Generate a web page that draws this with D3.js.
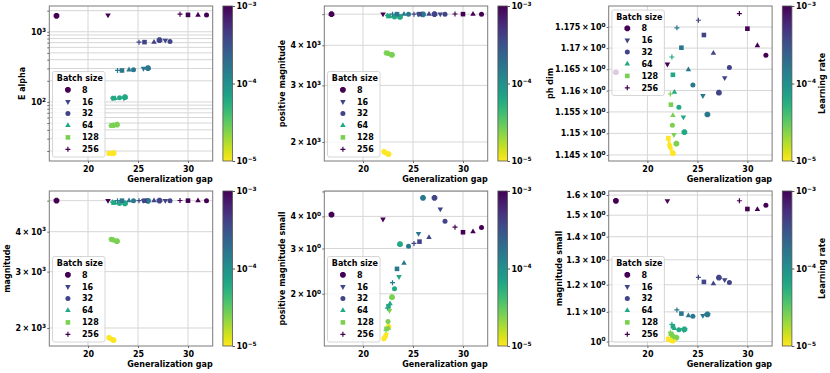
<!DOCTYPE html>
<html><head><meta charset="utf-8">
<script src="https://cdn.jsdelivr.net/npm/d3@7"></script>
<style>
body{margin:0;background:#fff}
svg text{font-family:"DejaVu Sans",sans-serif;font-weight:bold;fill:#000}
</style>
</head><body>
<svg id="c" width="830" height="373"></svg>
<script>
// ---------- DATA ----------
const batchSizes = [8, 16, 32, 64, 128, 256];
const learningRates = [1e-3, 3.98e-4, 1.58e-4, 6.31e-5, 2.51e-5, 1e-5];
// rows: learning rate, columns: batch size
const genGap = [
  [16.85, 22.0, 31.85, 31.0, 30.0, 29.2],
  [27.15, 27.73, 28.2, 26.6, 25.65, 25.1],
  [26.0, 25.55, 24.55, 24.1, 23.4, 22.95],
  [23.7, 23.6, 23.15, 22.7, 22.55, 22.45],
  [22.9, 22.65, 22.5, 22.55, 22.35, 22.3],
  [22.55, 22.35, 22.25, 22.2, 22.1, 22.08]
];
const eAlpha = [
  [1690, 1730, 1740, 1730, 1740, 1780],
  [761, 754, 729, 712, 712, 712],
  [303, 300, 287, 287, 281, 281],
  [117, 113, 115, 112, 113, 113],
  [47.5, 46.5, 46.5, 46.5, 46, 46],
  [18.7, 18.6, 18.6, 18.5, 18.5, 18.5]
];
const posMagnitude = [
  [5000, 5005, 5000, 5000, 5000, 5005],
  [5002, 5000, 5000, 5001, 5000, 5000],
  [4995, 5000, 5000, 5000, 5000, 5000],
  [4900, 4930, 4900, 4920, 4930, 4950],
  [3735, 3760, 3770, 3775, 3785, 3790],
  [1832, 1845, 1850, 1858, 1865, 1870]
];
const phDim = [
  [1.1643, 1.1662, 1.1683, 1.1706, 1.1746, 1.1782],
  [1.1595, 1.1630, 1.1654, 1.1688, 1.1731, 1.1766],
  [1.1544, 1.1588, 1.1613, 1.1649, 1.1701, 1.1748],
  [1.1503, 1.1538, 1.1561, 1.1596, 1.1637, 1.1679],
  [1.1476, 1.1497, 1.1519, 1.1542, 1.1567, 1.1592],
  [1.1454, 1.1463, 1.1470, 1.1477, 1.1489, 1.1485]
];
const magnitude = [
  [5000, 5005, 5000, 5000, 5000, 5005],
  [5002, 5000, 5000, 5001, 5000, 5000],
  [4995, 5000, 5000, 5000, 5000, 5000],
  [4900, 4930, 4900, 4920, 4930, 4950],
  [3735, 3760, 3770, 3775, 3785, 3790],
  [1832, 1845, 1850, 1858, 1865, 1870]
];
const posMagnitudeSmall = [
  [4.06, 3.90, 3.62, 3.49, 3.47, 3.63],
  [4.72, 4.27, 3.83, 3.31, 3.19, 3.14],
  [4.72, 3.43, 3.06, 2.63, 2.50, 2.21],
  [3.12, 2.33, 2.09, 1.83, 1.79, 1.76],
  [1.94, 1.72, 1.56, 1.47, 1.46, 1.44],
  [1.49, 1.39, 1.37, 1.36, 1.34, 1.335]
];
const magnitudeSmall = [
  [1.571, 1.571, 1.548, 1.528, 1.530, 1.571],
  [1.228, 1.219, 1.209, 1.204, 1.211, 1.229],
  [1.091, 1.087, 1.085, 1.087, 1.094, 1.107],
  [1.040, 1.039, 1.039, 1.043, 1.050, 1.057],
  [1.013, 1.015, 1.018, 1.022, 1.025, 1.030],
  [1.003, 1.004, 1.005, 1.006, 1.008, 1.012]
];
const xTickValues = [20, 25, 30];
const cbTickValues = [1e-3, 1e-4, 1e-5];
const legendTitle = "Batch size";
const legendColorLr = [0, 1, 1, 3, 4, 0]; // which learning rate colours the legend handle

// ---------- LAYOUT ----------
const colX = [49.3, 324.3, 608.7], rowY = [6, 191];
const W = 163.4, H = 155;
const xDomain = [16.13, 32.47];
const color = lr => d3.interpolateViridis(1 - (Math.log10(lr) + 5) / 2);

const panels = [
  {data: eAlpha, label: "E alpha", col: 0, row: 0, domain: [14.4, 2330],
   labeled: [100, 1000], grid: [20,30,40,50,60,70,80,90,100,200,300,400,500,600,700,800,900,1000,2000],
   legend: "bottom", ylx: 27.6, cbLabel: null},
  {data: posMagnitude, label: "positive magnitude", col: 1, row: 0, domain: [1745, 5300],
   labeled: [2000, 3000, 4000], grid: [2000, 3000, 4000, 5000], legend: "bottom", ylx: 42.5, cbLabel: null},
  {data: phDim, label: "ph dim", col: 2, row: 0, domain: [1.1436, 1.1800],
   labeled: [1.145, 1.15, 1.155, 1.16, 1.165, 1.17, 1.175], grid: [1.145, 1.15, 1.155, 1.16, 1.165, 1.17, 1.175],
   legend: "top", ylx: 58.5, cbLabel: "Learning rate"},
  {data: magnitude, label: "magnitude", col: 0, row: 1, domain: [1757, 5360],
   labeled: [2000, 3000, 4000], grid: [2000, 3000, 4000, 5000], legend: "bottom", ylx: 42.5, cbLabel: null},
  {data: posMagnitudeSmall, label: "positive magnitude small", col: 1, row: 1, domain: [1.253, 5.02],
   labeled: [2, 3, 4], grid: [2, 3, 4, 5], legend: "bottom", ylx: 42.5, cbLabel: null},
  {data: magnitudeSmall, label: "magnitude small", col: 2, row: 1, domain: [0.986, 1.621],
   labeled: [1.0, 1.1, 1.2, 1.3, 1.4, 1.5, 1.6], grid: [1.0, 1.1, 1.2, 1.3, 1.4, 1.5, 1.6],
   legend: "bottom", ylx: 50, cbLabel: "Learning rate"}
];

const svg = d3.select("#c");
const defs = svg.append("defs");
const grad = defs.append("linearGradient").attr("id", "vir")
  .attr("x1", 0).attr("y1", 0).attr("x2", 0).attr("y2", 1);
d3.range(0, 1.0001, 0.05).forEach(t =>
  grad.append("stop").attr("offset", t).attr("stop-color", d3.interpolateViridis(t)));

// marker shapes
function markerPath(bsIdx) {
  const p = d3.path();
  if (bsIdx === 0) { // octagon
    const R = 3.1;
    for (let k = 0; k < 8; k++) {
      const a = Math.PI / 8 + k * Math.PI / 4;
      k ? p.lineTo(R * Math.cos(a), R * Math.sin(a)) : p.moveTo(R * Math.cos(a), R * Math.sin(a));
    }
    p.closePath();
  } else if (bsIdx === 1) { // triangle down
    const R = 3.2;
    p.moveTo(0, R); p.lineTo(-R * 0.866, -R / 2); p.lineTo(R * 0.866, -R / 2); p.closePath();
  } else if (bsIdx === 2) { // circle
    p.arc(0, 0, 2.5, 0, 2 * Math.PI);
  } else if (bsIdx === 3) { // triangle up
    const R = 3.2;
    p.moveTo(0, -R); p.lineTo(-R * 0.866, R / 2); p.lineTo(R * 0.866, R / 2); p.closePath();
  } else if (bsIdx === 4) { // square
    p.rect(-2.3, -2.3, 4.6, 4.6);
  } else { // plus
    p.moveTo(-2.5, 0); p.lineTo(2.5, 0); p.moveTo(0, -2.5); p.lineTo(0, 2.5);
  }
  return p.toString();
}
function drawMarker(sel, bsIdx, col) {
  const m = sel.append("path").attr("d", markerPath(bsIdx));
  if (bsIdx === 5) m.attr("fill", "none").attr("stroke", col).attr("stroke-width", 1.2);
  else m.attr("fill", col);
  return m;
}

function sciLabel(textSel, v) {
  const e = Math.floor(Math.log10(v) + 1e-9);
  const m = +(v / Math.pow(10, e)).toFixed(4);
  textSel.text(null);
  const base = (m === 1) ? "10" : (String(m) + "\u2009\u00d7\u200910");
  textSel.append("tspan").text(base);
  textSel.append("tspan").attr("dy", -3.3).attr("font-size", "5.8px")
    .text(String(e).replace("-", "\u2212"));
}

panels.forEach(p => {
  const x0 = colX[p.col], y0 = rowY[p.row];
  const g = svg.append("g").attr("transform", `translate(${x0},${y0})`);
  const x = d3.scaleLinear().domain(xDomain).range([0, W]);
  const y = d3.scaleLog().domain(p.domain).range([H, 0]);

  // grid
  g.append("g").selectAll("line").data(xTickValues).join("line")
    .attr("x1", d => x(d)).attr("x2", d => x(d)).attr("y1", 0).attr("y2", H)
    .attr("stroke", "#d6d6d6").attr("stroke-width", 1);
  g.append("g").selectAll("line").data(p.grid).join("line")
    .attr("x1", 0).attr("x2", W).attr("y1", d => y(d)).attr("y2", d => y(d))
    .attr("stroke", "#d6d6d6").attr("stroke-width", 1);

  // axes
  const xa = g.append("g").attr("transform", `translate(0,${H})`)
    .call(d3.axisBottom(x).tickValues(xTickValues).tickSize(2).tickPadding(3.5).tickFormat(d3.format("d")));
  xa.select(".domain").remove();
  xa.selectAll("line").attr("stroke", "#666");
  xa.attr("font-family", null).attr("font-size", null);
  xa.selectAll("text").attr("font-size", "8px").attr("fill", "#000");

  const ya = g.append("g")
    .call(d3.axisLeft(y).tickValues(p.grid).tickSize(2).tickPadding(1.2).tickFormat(() => ""));
  ya.select(".domain").remove();
  ya.selectAll("line").attr("stroke", "#666");
  ya.attr("font-family", null).attr("font-size", null);
  ya.selectAll(".tick text").attr("font-size", "8px").attr("fill", "#000")
    .each(function (d) { if (p.labeled.some(v => Math.abs(v - d) < 1e-9)) sciLabel(d3.select(this), d); });

  // points
  const pts = g.append("g");
  batchSizes.forEach((bs, bi) => {
    learningRates.forEach((lr, li) => {
      const gx = genGap[li][bi], vy = p.data[li][bi];
      drawMarker(pts.append("g").attr("transform", `translate(${x(gx)},${y(vy)})`), bi, color(lr));
    });
  });

  // frame
  g.append("rect").attr("width", W).attr("height", H).attr("fill", "none")
    .attr("stroke", "#7a7a7a").attr("stroke-width", 1);

  // legend
  const lw = 52.5, lh = 85.5;
  const lx = 3.2, ly = p.legend === "top" ? 4 : H - 4 - lh;
  const lg = g.append("g").attr("transform", `translate(${lx},${ly})`);
  lg.append("rect").attr("width", lw).attr("height", lh).attr("rx", 2)
    .attr("fill", "#fff").attr("fill-opacity", 0.8).attr("stroke", "#cccccc").attr("stroke-width", 0.8);
  lg.append("text").attr("x", 4.3).attr("y", 9.8).attr("font-size", "8px").text(legendTitle);
  batchSizes.forEach((bs, bi) => {
    const cy = 18.3 + bi * 11.9;
    drawMarker(lg.append("g").attr("transform", `translate(15.4,${cy})`), bi, color(learningRates[legendColorLr[bi]]));
    lg.append("text").attr("x", 29.5).attr("y", cy).attr("dy", "0.36em").attr("font-size", "8px").text(bs);
  });

  // axis labels
  g.append("text").attr("x", W).attr("y", H + 20.8).attr("text-anchor", "end")
    .attr("font-size", "8px").text("Generalization gap");
  g.append("text").attr("transform", `translate(${-p.ylx},${H / 2}) rotate(-90)`)
    .attr("text-anchor", "middle").attr("dy", "0.36em").attr("font-size", "8px").text(p.label);

  // colorbar
  const cbX = W + 10.2, cbW = 9.6;
  const cb = g.append("g").attr("transform", `translate(${cbX},0)`);
  const cy = d3.scaleLog().domain([1e-5, 1e-3]).range([H, 0]);
  cb.append("rect").attr("width", cbW).attr("height", H).attr("fill", "url(#vir)");
  cb.append("rect").attr("width", cbW).attr("height", H).attr("fill", "none")
    .attr("stroke", "#555").attr("stroke-width", 0.8);
  const ca = cb.append("g").attr("transform", `translate(${cbW},0)`)
    .call(d3.axisRight(cy).tickValues(cbTickValues).tickSize(2.5).tickPadding(1.5).tickFormat(() => ""));
  ca.select(".domain").remove();
  ca.selectAll("line").attr("stroke", "#555");
  ca.attr("font-family", null).attr("font-size", null);
  ca.selectAll(".tick text").attr("font-size", "8px").attr("fill", "#000")
    .each(function (d) { sciLabel(d3.select(this), d); });
  if (p.cbLabel) {
    cb.append("text").attr("transform", `translate(${cbW + 30},${H / 2}) rotate(-90)`)
      .attr("text-anchor", "middle").attr("dy", "0.36em").attr("font-size", "8px").text(p.cbLabel);
  }
});
</script>
</body></html>
